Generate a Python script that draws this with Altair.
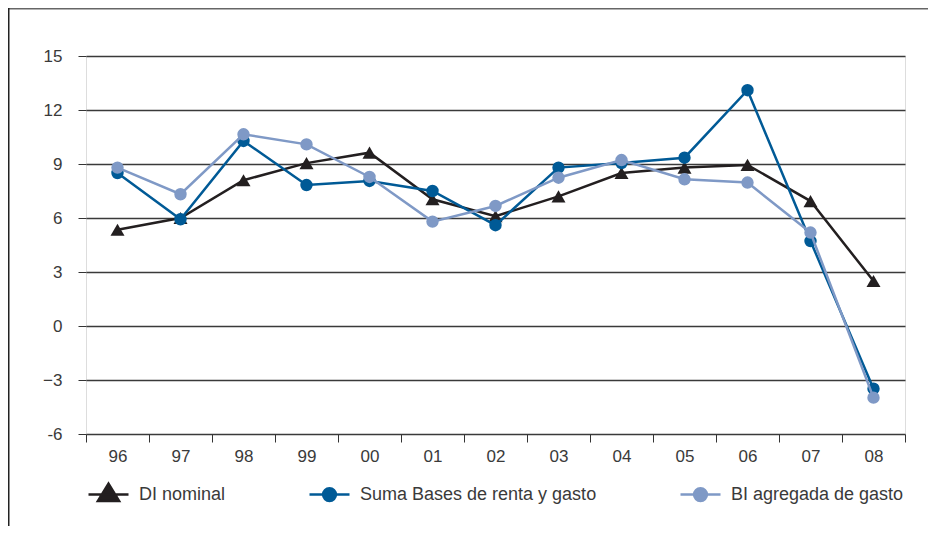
import altair as alt
import pandas as pd

years = ["96", "97", "98", "99", "00", "01", "02", "03", "04", "05", "06", "07", "08"]
di_nominal = [5.35, 6.0, 8.1, 9.05, 9.63, 7.04, 6.1, 7.2, 8.5, 8.8, 8.95, 6.94, 2.5]
suma_bases = [8.5, 5.93, 10.28, 7.83, 8.06, 7.5, 5.6, 8.8, 9.05, 9.35, 13.1, 4.72, -3.48]
bi_agregada = [8.8, 7.32, 10.65, 10.09, 8.28, 5.8, 6.67, 8.24, 9.22, 8.15, 7.97, 5.19, -3.98]

series_names = ["DI nominal", "Suma Bases de renta y gasto", "BI agregada de gasto"]
series_colors = ["#231f20", "#005a96", "#7f99c6"]
series_shapes = ["triangle-up", "circle", "circle"]
series_sizes = [196, 154, 154]
y_ticks = [-6, -3, 0, 3, 6, 9, 12, 15]

rows = []
for name, vals in zip(series_names, [di_nominal, suma_bases, bi_agregada]):
    for yr, v in zip(years, vals):
        rows.append({"year": yr, "value": v, "series": name})
df = pd.DataFrame(rows)

FONT = "Liberation Sans"
TXT = "#3a3a3a"

tri = "M-1,0H1M0,-0.55L0.53,0.32L-0.53,0.32Z"
circ = "M-1,0H1M0.32,0A0.32,0.32 0 1,1 -0.32,0A0.32,0.32 0 1,1 0.32,0Z"

legend = alt.Legend(
    title=None,
    orient="none",
    legendX=1,
    legendY=417,
    direction="horizontal",
    labelFont=FONT,
    labelFontSize=18,
    labelColor=TXT,
    labelOffset=9,
    labelLimit=400,
    symbolSize=1600,
    columnPadding=78,
    symbolStrokeWidth=2.5,
    symbolOpacity=1,
    symbolType={"expr": f"datum.value === 'DI nominal' ? '{tri}' : '{circ}'"},
    symbolFillColor={"expr": "scale('color', datum.value)"},
    symbolStrokeColor={"expr": "scale('color', datum.value)"},
)

x = alt.X(
    "year:O",
    sort=years,
    title=None,
    scale=alt.Scale(type="band", paddingInner=0, paddingOuter=0),
    axis=alt.Axis(
        tickBand="extent",
        labelAngle=0,
        labelFont=FONT,
        labelFontSize=17,
        labelColor=TXT,
        tickColor="#333333",
        tickSize=8,
        tickWidth=1,
        domain=False,
        grid=False,
        labelPadding=6,
    ),
)
y = alt.Y(
    "value:Q",
    title=None,
    scale=alt.Scale(domain=[-6, 15], nice=False, zero=False),
    axis=alt.Axis(
        values=y_ticks,
        labelExpr="datum.value == -6 ? '-6' : datum.label",
        gridColor="#3a3a3a",
        gridWidth=1.5,
        tickColor="#333333",
        tickSize=8,
        tickWidth=1,
        domain=False,
        labelPadding=16,
        labelFont=FONT,
        labelFontSize=17,
        labelColor=TXT,
    ),
)
color = alt.Color(
    "series:N",
    scale=alt.Scale(domain=series_names, range=series_colors),
    legend=legend,
)

layers = []
for name, shape, size in zip(series_names, series_shapes, series_sizes):
    layers.append(
        alt.Chart(df)
        .transform_filter(alt.datum.series == name)
        .mark_line(
            strokeWidth=2.5,
            point=alt.OverlayMarkDef(shape=shape, size=size, filled=True, opacity=1),
        )
        .encode(x=x, y=y, color=color)
    )

frame_df = pd.DataFrame({"k": [0]})
top_rule = alt.Chart(frame_df).mark_rule(color="#666666", strokeWidth=1.5).encode(
    x=alt.value(-78), x2=alt.value(842), y=alt.value(-47.25)
)
left_rule = alt.Chart(frame_df).mark_rule(color="#222222", strokeWidth=1.5).encode(
    x=alt.value(-77.25), y=alt.value(-48), y2=alt.value(472)
)

chart = (
    alt.layer(*layers, top_rule, left_rule)
    .properties(
        width=819,
        height=378,
        autosize=alt.AutoSizeParams(type="none"),
        padding={"left": 78, "top": 48, "right": 23, "bottom": 92},
    )
    .configure_view(fill="#e6e7e9", stroke="#3a3a3a", strokeWidth=1.5)
    .configure(background="white")
)

chart.save("out.html", embed_options={"renderer": "svg", "actions": False})
